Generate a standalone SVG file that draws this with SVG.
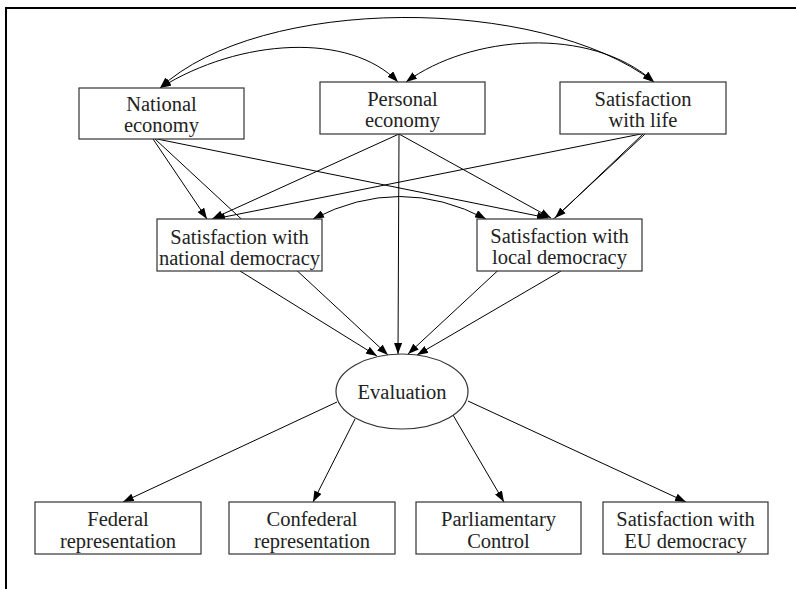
<svg xmlns="http://www.w3.org/2000/svg" width="796" height="589" viewBox="0 0 796 589">
  <defs>
    <marker id="ah" viewBox="0 0 11 8" refX="11" refY="4" markerWidth="11" markerHeight="8" markerUnits="userSpaceOnUse" orient="auto-start-reverse">
      <path d="M0,0 L11,4 L0,8 z" fill="#000"/>
    </marker>
    <style>
      .box { fill: #fff; stroke: #333; stroke-width: 1.2; }
      .e { fill: none; stroke: #000; stroke-width: 1; marker-end: url(#ah); }
      .c { fill: none; stroke: #000; stroke-width: 1; marker-start: url(#ah); marker-end: url(#ah); }
    </style>
  </defs>

  <rect width="796" height="589" fill="#fff"/>
  <!-- frame -->
  <path d="M6,589 V8 H796" fill="none" stroke="#000" stroke-width="2"/>

  <!-- connectors -->
  <g id="connectors">
    <!-- covariances among the top row -->
    <path class="c" d="M160,88 C260,-5 540,-5 654,82"/>
    <path class="c" d="M160,88 C240,38 350,32 398,82"/>
    <path class="c" d="M406,82 C470,35 590,25 654,82"/>
    <!-- covariance between the democracy measures -->
    <path class="c" d="M313,219 Q400,174 486,219"/>

    <!-- top row to democracy measures -->
    <path class="e" d="M153,139 L207,219"/>
    <path class="e" d="M157,139 L548,218"/>
    <path class="e" d="M399,134 L212,219"/>
    <path class="e" d="M399,134 L551,218"/>
    <path class="e" d="M641,134 L214,219"/>
    <path class="e" d="M643,134 L555,218"/>

    <!-- into Evaluation -->
    <path class="e" d="M240,271 L377,356"/>
    <path class="e" d="M155,139 L388,355"/>
    <path class="e" d="M399,134 L398,354"/>
    <path class="e" d="M645,134 L408,354"/>
    <path class="e" d="M561,271 L417,355"/>

    <!-- out of Evaluation -->
    <path class="e" d="M337,402 L123,502"/>
    <path class="e" d="M355,419 L313,502"/>
    <path class="e" d="M453,415 L504,502"/>
    <path class="e" d="M468,401 L686,502"/>
  </g>

  <g font-family="Liberation Serif, DejaVu Serif, serif" font-size="20.5" fill="#222" text-anchor="middle">
    <g id="national-economy">
      <rect class="box" x="79" y="88" width="165" height="51"/>
      <text x="161.5" y="111">National</text>
      <text x="161.5" y="132">economy</text>
    </g>
    <g id="personal-economy">
      <rect class="box" x="320" y="82" width="165" height="52"/>
      <text x="402.5" y="106">Personal</text>
      <text x="402.5" y="127">economy</text>
    </g>
    <g id="satisfaction-life">
      <rect class="box" x="560" y="82" width="166" height="52"/>
      <text x="643" y="106">Satisfaction</text>
      <text x="643" y="127">with life</text>
    </g>

    <g id="national-democracy">
      <rect class="box" x="157" y="219" width="165" height="52"/>
      <text x="239.5" y="244">Satisfaction with</text>
      <text x="239.5" y="265">national democracy</text>
    </g>
    <g id="local-democracy">
      <rect class="box" x="477" y="219" width="165" height="52"/>
      <text x="559.5" y="243">Satisfaction with</text>
      <text x="559.5" y="264">local democracy</text>
    </g>

    <g id="evaluation">
      <ellipse class="box" cx="402" cy="391.5" rx="66" ry="37.5"/>
      <text x="402" y="399">Evaluation</text>
    </g>

    <g id="federal">
      <rect class="box" x="35" y="502" width="166" height="52"/>
      <text x="118" y="526">Federal</text>
      <text x="118" y="548">representation</text>
    </g>
    <g id="confederal">
      <rect class="box" x="229" y="502" width="166" height="52"/>
      <text x="312" y="526">Confederal</text>
      <text x="312" y="548">representation</text>
    </g>
    <g id="parliamentary">
      <rect class="box" x="416" y="502" width="165" height="52"/>
      <text x="498.5" y="526">Parliamentary</text>
      <text x="498.5" y="548">Control</text>
    </g>
    <g id="eu-democracy">
      <rect class="box" x="603" y="502" width="165" height="52"/>
      <text x="685.5" y="526">Satisfaction with</text>
      <text x="685.5" y="548">EU democracy</text>
    </g>
  </g>
</svg>
